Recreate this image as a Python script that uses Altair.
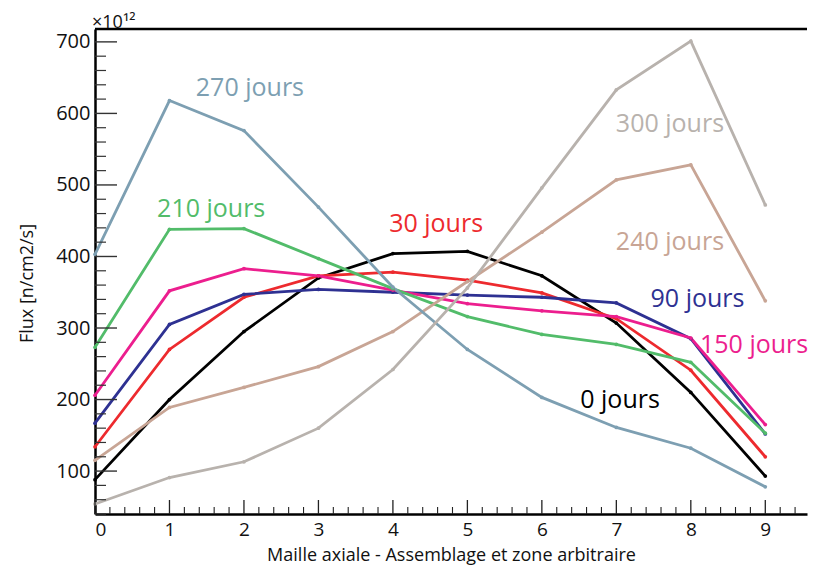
import altair as alt
import pandas as pd
import numpy as np

# ---- data ----
maille = [0, 1, 2, 3, 4, 5, 6, 7, 8, 9]
series_names = ["0 jours", "30 jours", "90 jours", "150 jours",
                "210 jours", "240 jours", "270 jours", "300 jours"]
flux_0 = [88, 200, 295, 370, 404, 407, 373, 307, 210, 93]
flux_30 = [134, 270, 343, 373, 378, 367, 349, 313, 241, 120]
flux_90 = [167, 305, 347, 354, 350, 346, 343, 335, 285, 152]
flux_150 = [206, 352, 383, 373, 353, 334, 324, 316, 286, 165]
flux_210 = [273, 438, 439, 397, 355, 316, 291, 277, 252, 153]
flux_240 = [115, 189, 217, 246, 295, 365, 434, 507, 528, 338]
flux_270 = [403, 618, 576, 469, 357, 270, 203, 161, 132, 78]
flux_300 = [54, 91, 113, 160, 242, 356, 496, 633, 701, 472]
series_colors = ["#000000", "#ED2A2E", "#2E3192", "#EC1E8E",
                 "#52BC6A", "#C8A595", "#7D9FB2", "#B8B2AD"]
label_x = [7.05, 4.58, 8.09, 8.85, 1.56, 7.72, 2.08, 7.72]
label_y = [200, 445, 340, 276, 467, 420, 635, 585]

x_major = [0, 1, 2, 3, 4, 5, 6, 7, 8, 9]
y_major = [100, 200, 300, 400, 500, 600, 700]

all_flux = [flux_0, flux_30, flux_90, flux_150, flux_210, flux_240, flux_270, flux_300]

rows = []
for name, vals in zip(series_names, all_flux):
    for xm, v in zip(maille, vals):
        rows.append({"mx": xm, "my": v, "serie": name})
df = pd.DataFrame(rows)
df_lab = pd.DataFrame({"mx": label_x, "my": label_y, "serie": series_names})

x_minor = [round(v, 1) for v in np.arange(0, 9.6, 0.2) if abs(v - round(v)) > 1e-6]
y_minor = [v for v in range(40, 701, 20) if v % 100 != 0]

W, H = 712, 485
FONT = "Open Sans"

xscale = alt.Scale(domain=[0, 9.56], nice=False, zero=False)
yscale = alt.Scale(domain=[40, 718], nice=False, zero=False)
cscale = alt.Scale(domain=series_names, range=series_colors)

xaxis = alt.Axis(title="Maille axiale - Assemblage et zone arbitraire",
                 values=x_major, format="d", labelPadding=6, titlePadding=7,
                 labelFontSize=19)
yaxis = alt.Axis(title="Flux [n/cm2/s]", values=y_major, format="d",
                 labelPadding=5,
                 titleX=-68, titleY=254, titleAlign="center",
                 titleBaseline="middle")

X = alt.X("mx:Q", scale=xscale, axis=xaxis)
Y = alt.Y("my:Q", scale=yscale, axis=yaxis)

lines = alt.Chart(df).mark_line(
    strokeWidth=2.8,
    point=alt.OverlayMarkDef(filled=True, size=14),
).encode(
    x=X, y=Y,
    color=alt.Color("serie:N", scale=cscale, legend=None),
    detail="serie:N",
    order=alt.Order("mx:Q"),
)

labels = alt.Chart(df_lab).mark_text(font=FONT, fontSize=25).encode(
    x=X, y=Y,
    text="serie:N",
    color=alt.Color("serie:N", scale=cscale, legend=None),
)

xt_major = alt.Chart(pd.DataFrame({"mx": x_major})).mark_rule(
    color="#222", strokeWidth=1.3).encode(
    x=X, y=alt.value(H), y2=alt.value(H - 14))
xt_minor = alt.Chart(pd.DataFrame({"mx": x_minor})).mark_rule(
    color="#222", strokeWidth=1.1).encode(
    x=X, y=alt.value(H), y2=alt.value(H - 7))
yt_major = alt.Chart(pd.DataFrame({"my": y_major})).mark_rule(
    color="#333", strokeWidth=1.4).encode(
    y=Y, x=alt.value(0), x2=alt.value(22))
yt_minor = alt.Chart(pd.DataFrame({"my": y_minor})).mark_rule(
    color="#333", strokeWidth=1.2).encode(
    y=Y, x=alt.value(0), x2=alt.value(11))

top_border = alt.Chart(pd.DataFrame({"a": [0]})).mark_rule(
    color="black", strokeWidth=2.5).encode(
    y=alt.value(0), x=alt.value(0), x2=alt.value(W))

exponent = alt.Chart(pd.DataFrame({"t": ["×10¹²"]})).mark_text(
    font=FONT, fontSize=18, align="left", baseline="middle", color="#111").encode(
    text="t:N", x=alt.value(-3), y=alt.value(-6))

chart = alt.layer(
    lines, xt_minor, xt_major, yt_minor, yt_major,
    labels, top_border, exponent
).properties(
    width=W, height=H,
    autosize=alt.AutoSizeParams(type="none"),
    padding={"left": 87, "top": 21, "right": 1, "bottom": 52},
    background="white",
).configure_view(
    stroke=None
).configure_axis(
    grid=False,
    ticks=False,
    domainColor="black",
    domainWidth=2.5,
    labelFont=FONT,
    labelFontSize=20,
    labelColor="#111",
    titleFont=FONT,
    titleFontSize=18,
    titleFontWeight="normal",
    titleColor="#111",
)

chart.save("out.html", embed_options={"renderer": "svg", "actions": False})
